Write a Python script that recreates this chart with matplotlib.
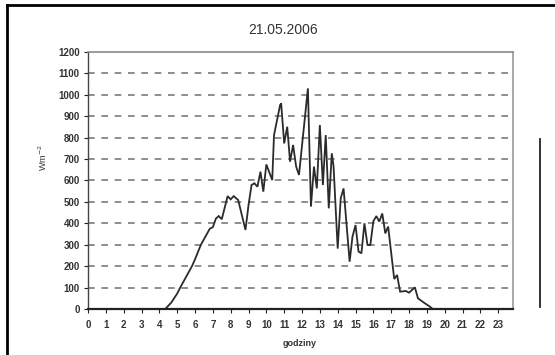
import matplotlib
matplotlib.use("Agg")
import matplotlib.pyplot as plt
from matplotlib.lines import Line2D

plt.rcParams['font.family'] = ['Liberation Sans', 'DejaVu Sans']

title = "21.05.2006"
x_label = "godziny"
y_label = "Wm$^{-2}$"

# hour of day and global radiation (W/m2)
hours = [0.0, 4.33, 4.67, 5.0, 5.17, 5.5, 5.83, 6.0, 6.33, 6.83, 7.0, 7.17, 7.33,
         7.5, 7.83, 8.0, 8.17, 8.42, 8.83, 9.0, 9.17, 9.33, 9.5, 9.67, 9.83, 10.0,
         10.33, 10.43, 10.77, 10.83, 11.0, 11.17, 11.33, 11.5, 11.67, 11.83, 12.33,
         12.5, 12.67, 12.83, 13.0, 13.17, 13.33, 13.5, 13.67, 13.77, 14.0, 14.17,
         14.33, 14.67, 14.83, 15.0, 15.17, 15.33, 15.5, 15.67, 15.83, 16.0, 16.17,
         16.33, 16.5, 16.67, 16.83, 17.17, 17.33, 17.5, 17.83, 18.0, 18.33, 18.5,
         18.83, 19.17, 19.33, 23.83]
radiation = [0, 0, 30, 72, 100, 150, 200, 232, 300, 375, 382, 422, 434,
             419, 527, 512, 527, 509, 369, 485, 579, 587, 571, 641, 548, 675,
             602, 812, 952, 960, 773, 851, 688, 766, 665, 626, 1030,
             478, 665, 563, 859, 579, 812, 470, 727, 665, 282, 517,
             563, 221, 338, 392, 268, 260, 400, 299, 299, 410, 434,
             408, 446, 353, 385, 140, 159, 81, 84, 76, 101, 50,
             30, 11, 0, 0]

y_ticks = list(range(0, 1201, 100))
x_ticks = list(range(0, 24))

fig = plt.figure(figsize=(5.55, 3.55), dpi=100)
ax = fig.add_axes([88 / 555, 1 - 309 / 355, 425 / 555, 257 / 355])

ax.plot(hours, radiation, color='#2b2b2b', lw=1.3, solid_joinstyle='miter')

ax.set_xlim(0, 23.83)
ax.set_ylim(0, 1200)
ax.set_yticks(y_ticks)
ax.set_xticks(x_ticks)
ax.tick_params(axis='both', labelsize=7, colors='#222222', length=3, width=0.8,
               direction='out', pad=3)
ax.tick_params(axis='x', pad=5)
for t in ax.get_xticklabels() + ax.get_yticklabels():
    t.set_fontweight('bold')
    t.set_color('#333333')

for yv in y_ticks[1:-1]:
    ax.axhline(yv, color='#7a7a7a', lw=1.2, ls=(0, (4, 4)), zorder=0)

ax.spines['left'].set_color('#444444')
ax.spines['left'].set_linewidth(1.0)
ax.spines['top'].set_color('#8a8a8a')
ax.spines['top'].set_linewidth(1.2)
ax.spines['right'].set_color('#9a9a9a')
ax.spines['right'].set_linewidth(1.2)
ax.spines['bottom'].set_color('#222222')
ax.spines['bottom'].set_linewidth(1.6)

fig.text(283 / 555, 1 - 30 / 355, title, ha='center', va='center', fontsize=10,
         color='#333333')
fig.text(300 / 555, 1 - 344 / 355, x_label, ha='center', va='center', fontsize=6.5,
         color='#333333', fontweight='bold')
fig.text(43 / 555, 1 - 158 / 355, y_label, ha='center', va='center', fontsize=6.5,
         color='#333333', rotation=90)

# page frame and side rule
fig.add_artist(Line2D([7 / 555, 7 / 555], [0, 1 - 5 / 355], transform=fig.transFigure,
                      color='black', lw=2.0))
fig.add_artist(Line2D([7 / 555, 1], [1 - 5 / 355, 1 - 5 / 355], transform=fig.transFigure,
                      color='black', lw=2.0))
fig.add_artist(Line2D([540 / 555, 540 / 555], [1 - 307 / 355, 1 - 139 / 355],
                      transform=fig.transFigure, color='#222222', lw=1.3))

fig.savefig("out.png", dpi=100)
